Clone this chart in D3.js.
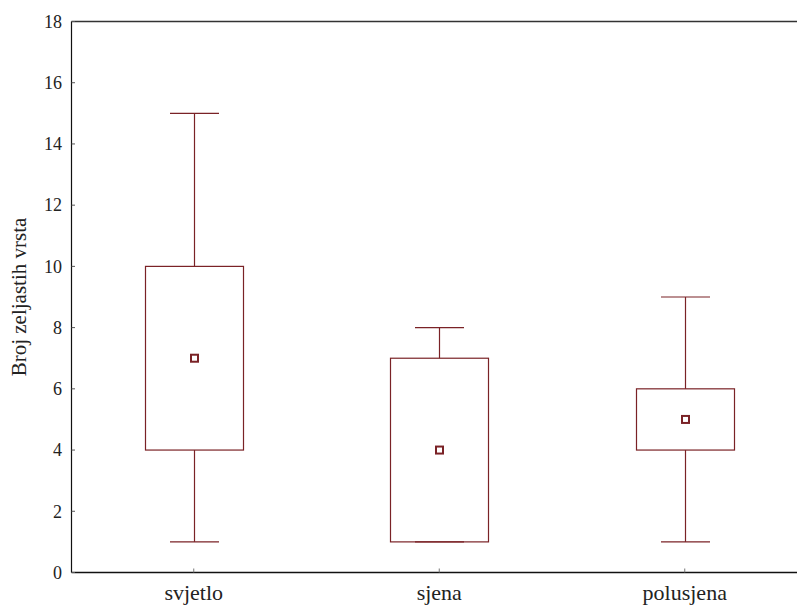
<!DOCTYPE html>
<html><head><meta charset="utf-8">
<script src="https://cdn.jsdelivr.net/npm/d3@7/dist/d3.min.js"></script>
<style>body{margin:0;background:#fff}svg{display:block}</style>
</head><body><svg id="c" width="797" height="607"></svg>
<script>
const categories = ["svjetlo","sjena","polusjena"];
const whiskerLow = [1,1,1];
const boxLow = [4,1,4];
const centerValue = [7,4,5];
const boxHigh = [10,7,6];
const whiskerHigh = [15,8,9];
const yTicks = [0,2,4,6,8,10,12,14,16,18];
const yTitle = "Broj zeljastih vrsta";

const FONT = "'Liberation Serif', 'Times New Roman', Times, 'DejaVu Serif', serif";
const svg = d3.select("#c");
const x = d3.scaleBand().domain(categories).range([71.5, 71.5+3*245.5]).padding(0);
const y = d3.scaleLinear().domain([0,18]).range([572.5,21.5]);
const col = "#7a2226";
const g = svg.append("g").attr("font-family", FONT).attr("fill", "#222");

// frame
g.append("line").attr("x1",71.5).attr("x2",797).attr("y1",y(18)).attr("y2",y(18)).attr("stroke","#333").attr("stroke-width",1.5);
g.append("line").attr("x1",71.5).attr("x2",797).attr("y1",y(0)).attr("y2",y(0)).attr("stroke","#111").attr("stroke-width",1.5);
g.append("line").attr("x1",71.5).attr("x2",71.5).attr("y1",y(0)).attr("y2",y(18)).attr("stroke","#111").attr("stroke-width",1.2);

// y ticks
g.selectAll(".yt").data(yTicks).join("line").attr("x1",71.5).attr("x2",75).attr("y1",d=>y(d)).attr("y2",d=>y(d)).attr("stroke","#555");
g.selectAll(".yl").data(yTicks).join("text").attr("x",62).attr("y",d=>y(d)).attr("dy","0.35em").attr("text-anchor","end").attr("font-size",18).attr("font-family",FONT).text(d=>d);

// x ticks and labels
const cx = d => x(d) + x.bandwidth()/2 - 0.5;
g.selectAll(".xt").data(categories).join("line").attr("x1",cx).attr("x2",cx).attr("y1",y(0)).attr("y2",y(0)-4).attr("stroke","#777");
g.selectAll(".xl").data(categories).join("text").attr("x",cx).attr("y",y(0)+27).attr("text-anchor","middle").attr("font-size",22).attr("font-family",FONT).text(d=>d);

// y title
g.append("text").attr("transform",`translate(26,${(y(0)+y(18))/2}) rotate(-90)`).attr("text-anchor","middle").attr("font-size",21).attr("font-family",FONT).text(yTitle);

// boxes
const bw = 98, cw = 49;
categories.forEach((c,i)=>{
  const xc = Math.round(cx(c)) + 0.5;
  g.append("line").attr("x1",xc).attr("x2",xc).attr("y1",y(whiskerHigh[i])).attr("y2",y(boxHigh[i])).attr("stroke",col).attr("stroke-width",1.2);
  g.append("line").attr("x1",xc).attr("x2",xc).attr("y1",y(boxLow[i])).attr("y2",y(whiskerLow[i])).attr("stroke",col).attr("stroke-width",1.2);
  [whiskerHigh[i], whiskerLow[i]].forEach(v=>{
    g.append("line").attr("x1",xc-cw/2).attr("x2",xc+cw/2).attr("y1",y(v)).attr("y2",y(v)).attr("stroke",col).attr("stroke-width",1.2);
  });
  g.append("rect").attr("x",xc-bw/2).attr("width",bw).attr("y",y(boxHigh[i])).attr("height",y(boxLow[i])-y(boxHigh[i])).attr("fill","none").attr("stroke",col).attr("stroke-width",1.2);
  g.append("rect").attr("x",xc-3.5).attr("y",y(centerValue[i])-3.5).attr("width",7).attr("height",7).attr("fill","#fff").attr("stroke",col).attr("stroke-width",2);
});
</script></body></html>
